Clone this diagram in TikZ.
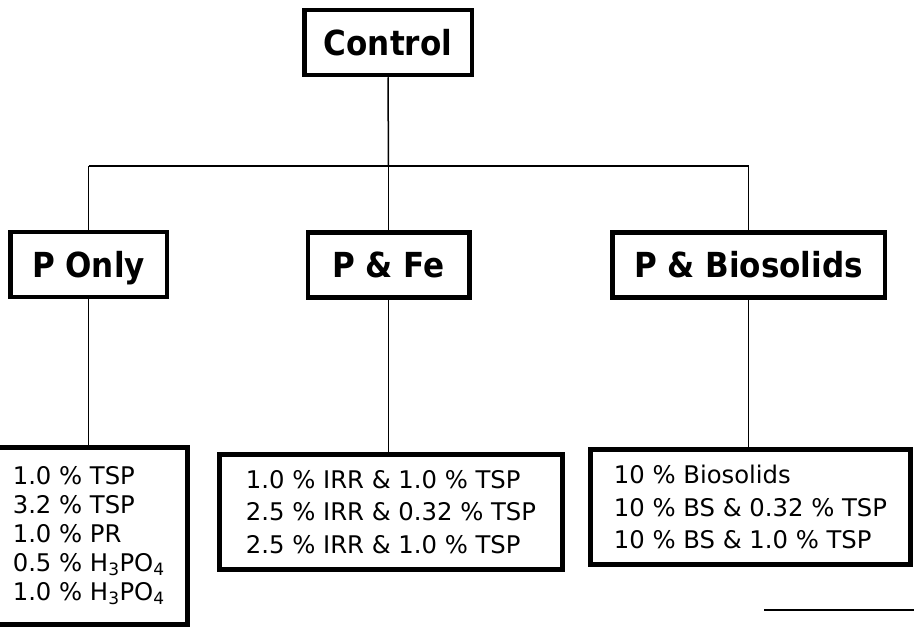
\documentclass[tikz,border=0pt]{standalone}
\usepackage{fontspec}
\setmainfont{DejaVu Sans}
\newfontfamily\headfont{DejaVu Sans}[FakeStretch=0.9]
\begin{document}
\begin{tikzpicture}[x=1pt,y=-1pt,
  headbox/.style={draw=black, line width=4.5pt, fill=white, inner sep=0pt,
    minimum height=65pt, text height=25pt, text depth=0pt,
    font=\headfont\bfseries\fontsize{34.5}{40}\selectfont},
  listbox/.style={draw=black, line width=5pt, fill=white, inner sep=0pt,
    align=left, font=\fontsize{24.3}{32.5}\selectfont},
  link/.style={draw=black, line width=1.5pt}]
\useasboundingbox (0,0) rectangle (914,627);
\clip (0,0) rectangle (914,627);

\node[headbox, minimum width=167.5pt] (ctrl) at (388,42.5) {Control};
\node[headbox, minimum width=156.5pt] (ponly) at (88.5,264.5) {P Only};
\node[headbox, minimum width=161.5pt] (pfe) at (388.5,265) {P \& Fe};
\node[headbox, minimum width=272.5pt] (pbio) at (748.5,265) {P \& Biosolids};

\node[listbox, font=\fontsize{24.3}{29}\selectfont, minimum width=197.5pt, minimum height=177.5pt]
  (l1) at (88.75,536) {1.0 \% TSP\\3.2 \% TSP\\1.0 \% PR\\0.5 \% H\textsubscript{3}PO\textsubscript{4}\\1.0 \% H\textsubscript{3}PO\textsubscript{4}};
\node[listbox, minimum width=343.5pt, minimum height=115.5pt]
  (l2) at (391,512) {1.0 \% IRR \& 1.0 \% TSP\\2.5 \% IRR \& 0.32 \% TSP\\2.5 \% IRR \& 1.0 \% TSP};
\node[listbox, minimum width=320pt, minimum height=115pt]
  (l3) at (750.5,507) {10 \% Biosolids\\10 \% BS \& 0.32 \% TSP\\10 \% BS \& 1.0 \% TSP};

\coordinate (j) at (388.5,166);
\coordinate (jl) at (88.5,166);
\coordinate (jr) at (748.5,166);

\path[link] (ctrl.south) -- (j);
\path[link] (jl) -- (jr);
\path[link] (jl) -- (ponly.north);
\path[link] (j) -- (pfe.north);
\path[link] (jr) -- (pbio.north);
\path[link] (ponly.south) -- (ponly.south |- l1.north);
\path[link] (pfe.south) -- (pfe.south |- l2.north);
\path[link] (pbio.south) -- (pbio.south |- l3.north);

\coordinate (s1) at (764,610);
\coordinate (s2) at (914,610);
\draw[line width=2pt] (s1) -- (s2);
\end{tikzpicture}
\end{document}
